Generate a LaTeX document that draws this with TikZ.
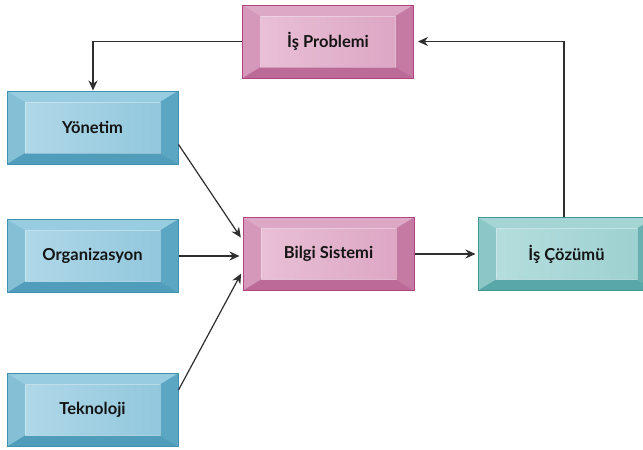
\documentclass[tikz,border=0pt]{standalone}
\usepackage{fontspec}
\newfontfamily\boxfont{Lato}
\usetikzlibrary{arrows.meta}
\definecolor{pkF1}{HTML}{EAC3D7}\definecolor{pkF2}{HTML}{DBA3C2}
\definecolor{pkB}{HTML}{B4447F}\definecolor{pkT}{HTML}{DDA8C6}
\definecolor{pkL}{HTML}{D598BA}\definecolor{pkR}{HTML}{C57AA4}
\definecolor{pkD}{HTML}{BC6B98}
\definecolor{blF1}{HTML}{B3DAEA}\definecolor{blF2}{HTML}{8EC5DB}
\definecolor{blB}{HTML}{3F91B0}\definecolor{blT}{HTML}{98CCE0}
\definecolor{blL}{HTML}{84BFD5}\definecolor{blR}{HTML}{5BA7C3}
\definecolor{blD}{HTML}{4F9DBA}
\definecolor{tlF1}{HTML}{B8DFDF}\definecolor{tlF2}{HTML}{9BCFCF}
\definecolor{tlB}{HTML}{3E9898}\definecolor{tlT}{HTML}{A5D4D4}
\definecolor{tlL}{HTML}{8CC6C6}\definecolor{tlR}{HTML}{69B1B1}
\definecolor{tlD}{HTML}{5AA7A7}
\definecolor{lineC}{HTML}{2E2E2E}
\begin{document}
\begin{tikzpicture}[x=1pt,y=-1pt,
  bevelbox/.style={rectangle, minimum width=171pt, minimum height=73pt, inner sep=0pt,
    left color=#1F1, right color=#1F2, draw=#1B, line width=1pt,
    font=\boxfont\bfseries\fontsize{16.5}{18}\selectfont, text=black!92,
    path picture={
      \coordinate (nw) at (path picture bounding box.north west);
      \coordinate (ne) at (path picture bounding box.north east);
      \coordinate (sw) at (path picture bounding box.south west);
      \coordinate (se) at (path picture bounding box.south east);
      \coordinate (inw) at ([xshift=18pt,yshift=-11pt]path picture bounding box.north west);
      \coordinate (ine) at ([xshift=-18pt,yshift=-11pt]path picture bounding box.north east);
      \coordinate (isw) at ([xshift=18pt,yshift=11pt]path picture bounding box.south west);
      \coordinate (ise) at ([xshift=-18pt,yshift=11pt]path picture bounding box.south east);
      \fill[#1T] (nw) -- (ne) -- (ine) -- (inw) -- cycle;
      \fill[#1L] (nw) -- (inw) -- (isw) -- (sw) -- cycle;
      \fill[#1R] (ne) -- (ine) -- (ise) -- (se) -- cycle;
      \fill[#1D] (sw) -- (isw) -- (ise) -- (se) -- cycle;
      \draw[white,opacity=0.35,line width=0.6pt] (inw) -- (ine) -- (ise) -- (isw) -- cycle;
    }},
  conn/.style={draw=lineC, line width=1.2pt, -{Stealth[length=10pt,width=9pt]}}]
\useasboundingbox[fill=white] (0,0) rectangle (643,450);
\node[bevelbox=pk] (prob) at (328,41.5) {İş Problemi};
\node[bevelbox=bl] (yon) at (92.5,127.5) {Yönetim};
\node[bevelbox=bl] (org) at (92.5,256) {Organizasyon};
\node[bevelbox=bl] (tek) at (92.5,410) {Teknoloji};
\node[bevelbox=pk] (bil) at (328.5,254) {Bilgi Sistemi};
\node[bevelbox=tl, minimum width=177pt] (coz) at (566.5,254) {İş Çözümü};
\coordinate (c1) at (93,41.5);
\coordinate (c2) at (564,41.5);
\draw[conn] (prob.west) -- (c1) -- (yon.north -| c1);
\draw[conn, shorten >=4pt] (coz.north -| c2) -- (c2) -- (prob.east);
\draw[conn, shorten >=3pt] ([yshift=-17pt]yon.east) -- ([yshift=14pt]bil.west);
\draw[conn, shorten >=3pt] (org.east) -- (bil.west |- org.east);
\draw[conn, shorten >=3pt] ([yshift=20pt]tek.east) -- ([yshift=-17pt]bil.west);
\draw[conn, shorten >=2pt] (bil.east) -- (coz.west);
\end{tikzpicture}
\end{document}
